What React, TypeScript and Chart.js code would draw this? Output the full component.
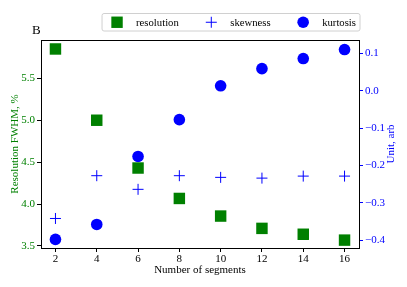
import React, { useEffect, useRef } from "react";
import { Chart, registerables } from "chart.js";

Chart.register(...registerables);

const segments = [2, 4, 6, 8, 10, 12, 14, 16];
const resolution = [5.85, 5.0, 4.43, 4.067, 3.857, 3.71, 3.64, 3.57];
const skewness = [-0.342, -0.2275, -0.264, -0.2275, -0.232, -0.234, -0.2286, -0.2286];
const kurtosis = [-0.398, -0.358, -0.176, -0.0775, 0.013, 0.059, 0.086, 0.11];

const xTicks = [2, 4, 6, 8, 10, 12, 14, 16];
const leftTicks = [3.5, 4.0, 4.5, 5.0, 5.5];
const rightTicks = [-0.4, -0.3, -0.2, -0.1, 0.0, 0.1];

const seriesLabels = ["resolution", "skewness", "kurtosis"];
const panelLabel = "B";
const xTitle = "Number of segments";
const leftTitle = "Resolution FWHM, %";
const rightTitle = "Unit, arb";

const GREEN = "#008000";
const BLUE = "#0000ff";
const FONT = "'Liberation Serif', 'Times New Roman', serif";

function pts(ys: number[]) {
  return segments.map((x, i) => ({ x, y: ys[i] }));
}

function fmt(v: number) {
  const s = v.toFixed(1);
  return s.startsWith("-") ? "\u2212" + s.slice(1) : s;
}

const decorPlugin = {
  id: "decor",
  afterDraw(chart: any) {
    const ctx = chart.ctx as CanvasRenderingContext2D;
    const a = chart.chartArea;
    ctx.save();
    // frame (spines)
    ctx.strokeStyle = "#000";
    ctx.lineWidth = 1;
    ctx.strokeRect(Math.round(a.left) + 0.5, Math.round(a.top) + 0.5, Math.round(a.right - a.left), Math.round(a.bottom - a.top));

    // panel label
    ctx.fillStyle = "#000";
    ctx.font = `13px ${FONT}`;
    ctx.textAlign = "left";
    ctx.textBaseline = "alphabetic";
    ctx.fillText(panelLabel, a.left - 9, a.top - 6);

    // right axis title (reads bottom-to-top)
    ctx.save();
    ctx.font = `11px ${FONT}`;
    ctx.fillStyle = BLUE;
    ctx.textAlign = "center";
    ctx.textBaseline = "middle";
    ctx.translate(a.right + 32, (a.top + a.bottom) / 2);
    ctx.rotate(-Math.PI / 2);
    ctx.fillText(rightTitle, 0, 0);
    ctx.restore();

    // legend
    ctx.font = `10.7px ${FONT}`;
    const handle = 22, textPad = 8, colSpace = 21.5, pad = 4;
    const widths = seriesLabels.map((t) => ctx.measureText(t).width);
    const total = pad * 2 + widths.reduce((s, w) => s + w, 0) + seriesLabels.length * (handle + textPad) + colSpace * (seriesLabels.length - 1);
    const right = a.right + 1;
    const left = right - total;
    const top = 13.5, bottom = 31;
    const cy = (top + bottom) / 2;
    ctx.beginPath();
    const r = 2;
    ctx.moveTo(left + r, top);
    ctx.arcTo(right, top, right, bottom, r);
    ctx.arcTo(right, bottom, left, bottom, r);
    ctx.arcTo(left, bottom, left, top, r);
    ctx.arcTo(left, top, right, top, r);
    ctx.closePath();
    ctx.fillStyle = "rgba(255,255,255,0.8)";
    ctx.fill();
    ctx.strokeStyle = "#d0d0d0";
    ctx.lineWidth = 1;
    ctx.stroke();

    let x = left + pad;
    chart.data.datasets.forEach((ds: any, i: number) => {
      const cx = x + handle / 2;
      ctx.fillStyle = ds.backgroundColor;
      ctx.strokeStyle = ds.borderColor;
      if (ds.pointStyle === "rect") {
        ctx.fillRect(cx - 5.7, cy - 5.7, 11.4, 11.4);
      } else if (ds.pointStyle === "circle") {
        ctx.beginPath();
        ctx.arc(cx, cy, 5.8, 0, Math.PI * 2);
        ctx.fill();
      } else {
        ctx.lineWidth = 1;
        ctx.beginPath();
        ctx.moveTo(cx - 5.5, cy);
        ctx.lineTo(cx + 5.5, cy);
        ctx.moveTo(cx, cy - 5.5);
        ctx.lineTo(cx, cy + 5.5);
        ctx.stroke();
      }
      ctx.fillStyle = "#000";
      ctx.textAlign = "left";
      ctx.textBaseline = "middle";
      ctx.fillText(seriesLabels[i], x + handle + textPad, cy + 0.5);
      x += handle + textPad + widths[i] + colSpace;
    });
    ctx.restore();
  },
};

export default function App() {
  const ref = useRef<HTMLCanvasElement | null>(null);
  useEffect(() => {
    document.body.style.margin = "0";
    const chart = new Chart(ref.current as HTMLCanvasElement, {
      type: "scatter",
      data: {
        datasets: [
          {
            label: seriesLabels[0],
            data: pts(resolution),
            yAxisID: "y",
            pointStyle: "rect",
            pointRadius: 8.1,
            backgroundColor: GREEN,
            borderColor: GREEN,
            borderWidth: 0,
          },
          {
            label: seriesLabels[1],
            data: pts(skewness),
            yAxisID: "y1",
            pointStyle: "cross",
            pointRadius: 5.5,
            backgroundColor: BLUE,
            borderColor: BLUE,
            borderWidth: 1,
          },
          {
            label: seriesLabels[2],
            data: pts(kurtosis),
            yAxisID: "y1",
            pointStyle: "circle",
            pointRadius: 5.8,
            backgroundColor: BLUE,
            borderColor: BLUE,
            borderWidth: 0,
          },
        ] as any,
      },
      options: {
        animation: false,
        responsive: false,
        devicePixelRatio: 1,
        layout: { padding: { top: 40, left: 0, right: 0, bottom: 0 } },
        plugins: { legend: { display: false }, tooltip: { enabled: false }, title: { display: false } },
        scales: {
          x: {
            type: "linear",
            position: "bottom",
            min: 1.3,
            max: 16.7,
            afterFit: (s: any) => { s.height = 39; },
            afterBuildTicks: (s: any) => { s.ticks = xTicks.map((v) => ({ value: v })); },
            grid: { drawOnChartArea: false, drawTicks: true, tickLength: 4, color: "#000", tickColor: "#000" },
            border: { display: true, color: "#000", width: 1 },
            ticks: { color: "#000", font: { family: FONT, size: 11 }, padding: 1, maxRotation: 0, callback: (v: any) => String(v) },
            title: { display: true, text: xTitle, color: "#000", font: { family: FONT, size: 11 }, padding: { top: 0, bottom: 10 } },
          },
          y: {
            type: "linear",
            position: "left",
            min: 3.476,
            max: 5.957,
            afterFit: (s: any) => { s.width = 41; },
            afterBuildTicks: (s: any) => { s.ticks = leftTicks.map((v) => ({ value: v })); },
            grid: { drawOnChartArea: false, drawTicks: true, tickLength: 4, color: "#000", tickColor: "#000" },
            border: { display: true, color: "#000", width: 1 },
            ticks: { color: GREEN, font: { family: FONT, size: 11 }, padding: 2, callback: (v: any) => Number(v).toFixed(1) },
            title: { display: true, text: leftTitle, color: GREEN, font: { family: FONT, size: 11 }, padding: { top: 9, bottom: 0 } },
          },
          y1: {
            type: "linear",
            position: "right",
            min: -0.421,
            max: 0.1356,
            afterFit: (s: any) => { s.width = 48; },
            afterBuildTicks: (s: any) => { s.ticks = rightTicks.map((v) => ({ value: v })); },
            grid: { drawOnChartArea: false, drawTicks: true, tickLength: 4, color: BLUE, tickColor: BLUE },
            border: { display: true, color: "#000", width: 1 },
            ticks: { color: BLUE, font: { family: FONT, size: 11 }, padding: 2, callback: (v: any) => fmt(Number(v)) },
            title: { display: false },
          },
        },
      } as any,
      plugins: [decorPlugin],
    });
    return () => chart.destroy();
  }, []);
  return (
    <div style={{ position: "absolute", left: 0, top: 0, width: 407, height: 287 }}>
      <canvas ref={ref} width={407} height={287} />
    </div>
  );
}
